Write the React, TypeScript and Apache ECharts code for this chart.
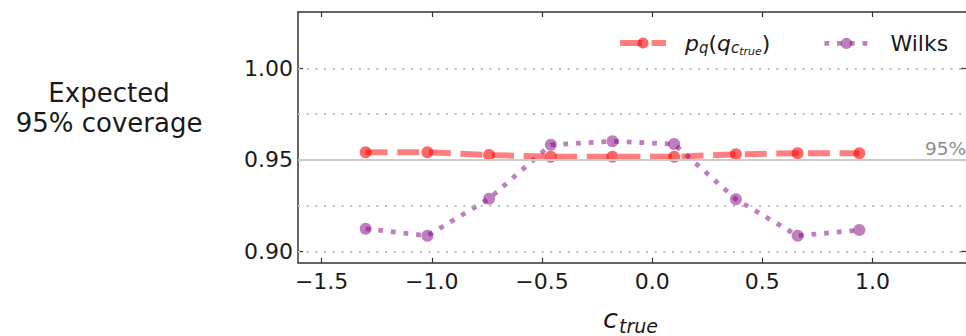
import React, { useEffect, useRef } from "react";
import * as echarts from "echarts";

const cTrue = [-1.3, -1.02, -0.74, -0.46, -0.18, 0.1, 0.38, 0.66, 0.94];
const pqCoverage = [0.9542, 0.9542, 0.9527, 0.9518, 0.9518, 0.9518, 0.9531, 0.9537, 0.9537];
const wilksCoverage = [0.9125, 0.9087, 0.9289, 0.9583, 0.9602, 0.9587, 0.9286, 0.9087, 0.9118];
const xTicks = [-1.5, -1.0, -0.5, 0.0, 0.5, 1.0];
const yTicks = [0.9, 0.95, 1.0];
const gridLineValues = [0.9, 0.925, 0.975, 1.0];
const targetLevel = 0.95;

const FONT = "DejaVu Sans";
const TEXT = "#1a1a1a";

export default function App() {
  const ref = useRef<HTMLDivElement>(null);
  useEffect(() => {
    if (!ref.current) return;
    const chart = echarts.init(ref.current, undefined, { renderer: "svg" });
    const xMin = -1.607;
    const xMax = 1.424;
    const yMin = 0.894;
    const yMax = 1.0307;
    const spine = { show: true, onZero: false, lineStyle: { color: "#333", width: 1.5 } };
    const fmtMinus = (v: number, d: number) => v.toFixed(d).replace("-", "\u2212");
    const option: any = {
      animation: false,
      textStyle: { fontFamily: FONT },
      grid: { left: 298, top: 12, right: 0, bottom: 73.3, containLabel: false },
      xAxis: [
        {
          type: "value", min: xMin, max: xMax, position: "bottom",
          axisLine: spine,
          axisTick: { show: true, inside: true, length: 5, customValues: xTicks, lineStyle: { color: "#333", width: 1.2 } },
          axisLabel: { show: true, customValues: xTicks, margin: 8, fontSize: 22, color: TEXT, fontFamily: FONT, formatter: (v: number) => fmtMinus(v, 1) },
          splitLine: { show: false },
        },
        {
          type: "value", min: xMin, max: xMax, position: "top",
          axisLine: spine,
          axisTick: { show: true, inside: true, length: 5, customValues: xTicks, lineStyle: { color: "#333", width: 1.2 } },
          axisLabel: { show: false },
          splitLine: { show: false },
        },
      ],
      yAxis: [
        {
          type: "value", min: yMin, max: yMax, position: "left",
          axisLine: spine,
          axisTick: { show: true, inside: true, length: 5, customValues: yTicks, lineStyle: { color: "#333", width: 1.2 } },
          axisLabel: { show: true, customValues: yTicks, margin: 5, fontSize: 22, color: TEXT, fontFamily: FONT, formatter: (v: number) => v.toFixed(2) },
          splitLine: { show: false },
        },
        {
          type: "value", min: yMin, max: yMax, position: "right",
          axisLine: { show: false, onZero: false },
          axisTick: { show: true, inside: true, length: 5, customValues: yTicks, lineStyle: { color: "#333", width: 1.2 } },
          axisLabel: { show: false },
          splitLine: { show: false },
        },
      ],
      legend: [
        {
          data: ["pq"], left: 617, top: 29.5, padding: 0, itemWidth: 46, itemHeight: 14,
          selectedMode: false,
          lineStyle: { width: 6 },
          formatter: () => "{i|p}{s|q}{r|(}{i|q}{s|c}{ss|true}{r|)}",
          textStyle: {
            padding: [0, 0, 0, 14],
            color: TEXT,
            fontFamily: FONT,
            fontSize: 22,
            lineHeight: 26,
            rich: {
              i: { fontSize: 22, fontStyle: "italic", lineHeight: 26, color: TEXT, fontFamily: FONT },
              r: { fontSize: 22, lineHeight: 26, color: TEXT, fontFamily: FONT },
              s: { fontSize: 15, fontStyle: "italic", lineHeight: 16, padding: [10, 0, 0, 0], color: TEXT, fontFamily: FONT },
              ss: { fontSize: 11, fontStyle: "italic", lineHeight: 10, padding: [16, 0, 0, 0], color: TEXT, fontFamily: FONT },
            },
          },
        },
        {
          data: ["Wilks"], left: 822, top: 30.3, padding: 0, itemWidth: 44, itemHeight: 14,
          selectedMode: false,
          lineStyle: { width: 4.8 },
          textStyle: { padding: [0, 0, 0, 17], color: TEXT, fontFamily: FONT, fontSize: 22, lineHeight: 26 },
        },
      ],
      series: [
        {
          name: "grid",
          type: "line",
          data: [],
          z: 1,
          silent: true,
          markLine: {
            silent: true,
            precision: 4,
            symbol: ["none", "none"],
            animation: false,
            label: { show: false },
            lineStyle: { color: "#bdbdbd", width: 1.8, type: [2, 6.7] },
            emphasis: { disabled: true },
            data: [
              ...gridLineValues.map((v) => ({ yAxis: v })),
              {
                yAxis: targetLevel,
                lineStyle: { color: "#cccccc", width: 2.2, type: "solid" },
                label: {
                  show: true, position: "insideEndTop", formatter: "95%", distance: [0, 2],
                  color: "#8c8c8c", fontSize: 18.5, fontFamily: FONT,
                },
              },
            ],
          },
        },
        {
          name: "pq",
          type: "line",
          data: cTrue.map((x, i) => [x, pqCoverage[i]]),
          z: 3,
          symbol: "circle",
          symbolSize: 12,
          showSymbol: true,
          lineStyle: { color: "#ff0000", width: 6, type: [22, 9.6], opacity: 0.5, cap: "butt" },
          itemStyle: { color: "#ff0000", opacity: 0.6 },
          emphasis: { disabled: true },
        },
        {
          name: "Wilks",
          type: "line",
          data: cTrue.map((x, i) => [x, wilksCoverage[i]]),
          z: 4,
          symbol: "circle",
          symbolSize: 12,
          showSymbol: true,
          lineStyle: { color: "#800080", width: 4.8, type: [4.8, 7.9], opacity: 0.5, cap: "butt" },
          itemStyle: { color: "#800080", opacity: 0.5 },
          emphasis: { disabled: true },
        },
      ],
      graphic: [
        {
          type: "text", x: 109, y: 108,
          style: {
            text: "Expected\n95% coverage", fontSize: 26, lineHeight: 29.5, fontFamily: FONT,
            fill: TEXT, align: "center", verticalAlign: "middle",
          },
        },
        {
          type: "text", x: 603, y: 318,
          style: { text: "c", fontSize: 27, lineHeight: 27, fontStyle: "italic", fontFamily: FONT, fill: TEXT, align: "left", verticalAlign: "middle" },
        },
        {
          type: "text", x: 619, y: 325.5,
          style: { text: "true", fontSize: 19, lineHeight: 19, fontStyle: "italic", fontFamily: FONT, fill: TEXT, align: "left", verticalAlign: "middle" },
        },
      ],
    };
    chart.setOption(option);
    return () => chart.dispose();
  }, []);
  return (
    <div
      ref={ref}
      style={{ position: "fixed", left: 0, top: 0, width: 966, height: 336, background: "#fff" }}
    />
  );
}
